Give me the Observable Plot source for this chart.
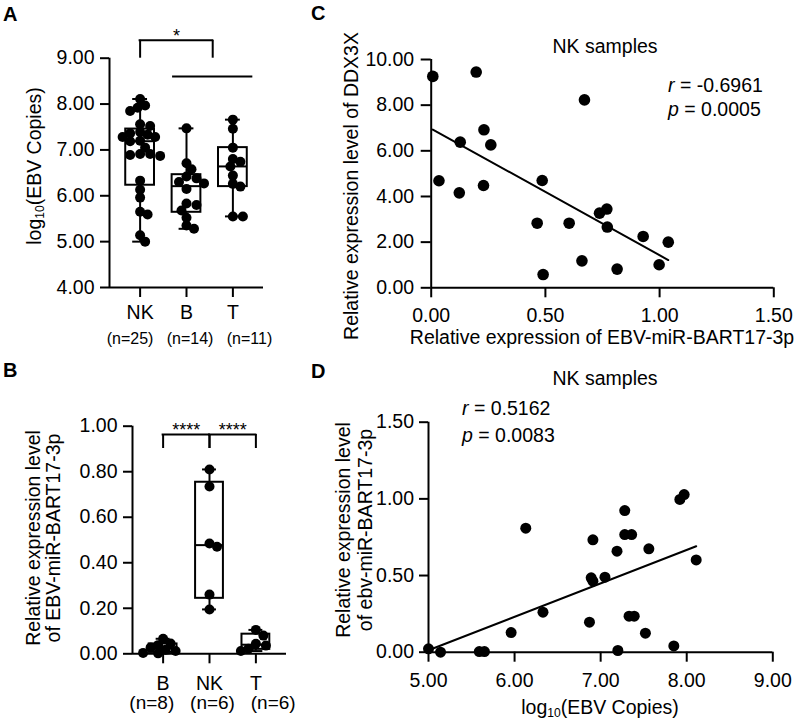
<!DOCTYPE html>
<html>
<head>
<meta charset="utf-8">
<script src="https://cdn.jsdelivr.net/npm/d3@7"></script>
<script src="https://cdn.jsdelivr.net/npm/@observablehq/plot@0.6"></script>
<style>
html,body{margin:0;padding:0;background:#fff;}
#fig{position:relative;width:800px;height:724px;overflow:hidden;font-family:"Liberation Sans",Arial,Helvetica,sans-serif;color:#000;}
#fig .panel{position:absolute;}
#fig .panel svg{overflow:visible;}
#fig .t{position:absolute;white-space:nowrap;line-height:1;font-size:19.5px;transform:translate(-50%,-50%);}
#fig .t.l{transform:translate(0,-50%);}
#fig .t.rot{transform:translate(-50%,-50%) rotate(-90deg);text-align:center;}
#fig .t.tag{font-weight:bold;font-size:20px;transform:translate(0,-50%);}
#fig sub{font-size:62%;vertical-align:-0.25em;line-height:0;}
#fig svg g[aria-label$="tick"]{stroke-width:2px;}
#fig svg g[aria-label$="tick"] path,#fig svg .tick line{stroke-width:2px;}
#fig svg g[aria-label$="tick label"],#fig svg g[aria-label$="tick label"] text,#fig svg .tick text{font-size:19.5px !important;font-family:"Liberation Sans",Arial,Helvetica,sans-serif !important;}
</style>
</head>
<body>
<div id="fig"></div>
<script>
// ---------- Panel A: log10(EBV copies) by cell type ----------
const groupsA = ["NK", "B", "T"];
const nLabelsA = ["(n=25)", "(n=14)", "(n=11)"];
const nkEbvCopies = [5.00, 5.14, 5.59, 5.65, 5.96, 6.13, 6.33, 6.87, 6.91, 6.89, 6.91, 7.05, 7.20, 7.19, 7.28, 7.28, 7.36, 7.33, 7.39, 7.52, 7.56, 7.85, 7.92, 7.97, 8.11];
const bEbvCopies = [7.47, 6.71, 6.58, 6.42, 6.38, 6.30, 6.27, 6.15, 5.83, 5.80, 5.68, 5.52, 5.35, 5.28];
const tEbvCopies = [7.66, 7.46, 7.05, 6.80, 6.74, 6.64, 6.44, 6.26, 6.20, 5.55, 5.55];
const sigBracketA = [{from: 0, to: 1.565, y: 9.39, drop: 9.0, label: "*"}];
const sigLineA = [{from: 0.7, to: 2.43, y: 8.6}];

// ---------- Panel B: EBV-miR-BART17-3p by cell type ----------
const groupsB = ["B", "NK", "T"];
const nLabelsB = ["(n=8)", "(n=6)", "(n=6)"];
const bBart17 = [0.066, 0.045, 0.038, 0.028, 0.018, 0.012, 0.004, 0.002];
const nkBart17 = [0.81, 0.735, 0.485, 0.47, 0.26, 0.195];
const tBart17 = [0.105, 0.080, 0.044, 0.036, 0.022, 0.012];
const sigBracketsB = [
  {from: 0, to: 1, y: 0.9635, drop: 0.902, label: "****"},
  {from: 1, to: 2, y: 0.9635, drop: 0.902, label: "****"}
];

// ---------- Panel C: DDX3X vs BART17-3p (NK samples) ----------
const bart17C = [0.007, 0.197, 0.671, 0.231, 0.127, 0.261, 0.034, 0.486, 0.123, 0.229, 0.464, 0.604, 0.737, 0.769, 0.771, 0.928, 1.038, 0.660, 0.814, 0.998, 0.490];
const ddx3xC = [9.26, 9.45, 8.23, 6.92, 6.38, 6.26, 4.69, 4.70, 4.16, 4.48, 2.83, 2.83, 3.27, 3.45, 2.66, 2.25, 2.00, 1.18, 0.82, 1.01, 0.58];
const statsC = {r: "-0.6961", p: "0.0005"};

// ---------- Panel D: BART17-3p vs log10(EBV copies) (NK samples) ----------
const bart17D = [0.022, 0.0, 0.004, 0.004, 0.128, 0.809, 0.261, 0.196, 0.733, 0.485, 0.463, 0.489, 0.011, 0.659, 0.924, 0.767, 0.767, 0.235, 0.235, 0.124, 0.674, 0.041, 0.996, 1.028, 0.602];
const statsD = {r: "0.5162", p: "0.0083"};

// ---------- helpers ----------
const FONT = '"Liberation Sans", Arial, Helvetica, sans-serif';
const fig = document.getElementById("fig");
const f2 = d3.format(".2f");

function gpQuantile(v, p) {
  const s = [...v].sort(d3.ascending), n = s.length;
  const pos = p * (n + 1);
  if (pos <= 1) return s[0];
  if (pos >= n) return s[n - 1];
  const lo = Math.floor(pos);
  return s[lo - 1] + (pos - lo) * (s[lo] - s[lo - 1]);
}
function boxStats(arrays) {
  return arrays.map((v, i) => ({i, min: d3.min(v), max: d3.max(v),
    q1: gpQuantile(v, 0.25), med: gpQuantile(v, 0.5), q3: gpQuantile(v, 0.75)}));
}
function boxMarks(stats, half, cap) {
  const sw = 2;
  return [
    Plot.ruleX(stats, {x: "i", y1: "q3", y2: "max", strokeWidth: sw}),
    Plot.ruleX(stats, {x: "i", y1: "min", y2: "q1", strokeWidth: sw}),
    Plot.ruleY(stats, {y: "max", x1: d => d.i - cap, x2: d => d.i + cap, strokeWidth: sw}),
    Plot.ruleY(stats, {y: "min", x1: d => d.i - cap, x2: d => d.i + cap, strokeWidth: sw}),
    Plot.rect(stats, {x1: d => d.i - half, x2: d => d.i + half, y1: "q1", y2: "q3", fill: "none", stroke: "black", strokeWidth: sw}),
    Plot.ruleY(stats, {y: "med", x1: d => d.i - half, x2: d => d.i + half, strokeWidth: sw})
  ];
}
// deterministic beeswarm offsets (pixel collision test), returned in data units
function swarm(values, center, pxX, pxY, r) {
  const out = new Array(values.length);
  const order = d3.range(values.length).sort((a, b) => values[b] - values[a]);
  const placed = [];
  const minD = 1.55 * r;
  for (const i of order) {
    const py = values[i] * pxY;
    let off = 0;
    for (let k = 0; k < 80; k++) {
      const cand = (k % 2 ? 1 : -1) * Math.ceil(k / 2) * r * 0.5;
      if (placed.every(p => Math.hypot(p.px - cand, p.py - py) >= minD)) { off = cand; break; }
    }
    placed.push({px: off, py});
    out[i] = {x: center + off / pxX, y: values[i]};
  }
  return out;
}
function bracketMarks(list, fontSize) {
  return [
    Plot.ruleY(list, {y: "y", x1: "from", x2: "to", strokeWidth: 2, strokeLinecap: "square"}),
    Plot.ruleX(list, {x: "from", y1: "drop", y2: "y", strokeWidth: 2}),
    Plot.ruleX(list, {x: "to", y1: "drop", y2: "y", strokeWidth: 2}),
    Plot.text(list, {x: d => (d.from + d.to) / 2, y: "y", text: "label", dy: -4.5, lineAnchor: "middle", fontSize})
  ];
}
function mount(L, plot) {
  const d = document.createElement("div");
  d.className = "panel";
  d.style.left = L.left + "px";
  d.style.top = L.top + "px";
  d.appendChild(plot);
  fig.appendChild(d);
}
function text(html, x, y, cls, extra) {
  const d = document.createElement("div");
  d.className = "t " + (cls || "");
  d.style.left = x + "px";
  d.style.top = y + "px";
  d.innerHTML = html;
  Object.assign(d.style, extra || {});
  fig.appendChild(d);
}
const baseStyle = {fontFamily: FONT, fontSize: "19.5px", background: "transparent", overflow: "visible", color: "black"};

// ---------- Panel A ----------
const LA = {left: 0, top: 0, width: 280, height: 360, ml: 109, mr: 17, mt: 57.7, mb: 73, xDom: [-0.66, 2.66], yDom: [4, 9]};
{
  const pxX = (LA.width - LA.ml - LA.mr) / (LA.xDom[1] - LA.xDom[0]);
  const pxY = (LA.height - LA.mt - LA.mb) / (LA.yDom[1] - LA.yDom[0]);
  const arrays = [nkEbvCopies, bEbvCopies, tEbvCopies];
  const pts = arrays.flatMap((v, i) => swarm(v, i, pxX, pxY, 5));
  mount(LA, Plot.plot({
    width: LA.width, height: LA.height,
    marginLeft: LA.ml, marginRight: LA.mr, marginTop: LA.mt, marginBottom: LA.mb,
    style: baseStyle,
    x: {domain: LA.xDom, ticks: [0, 1, 2], tickFormat: i => groupsA[i], tickSize: 10, tickPadding: 8, label: null},
    y: {domain: LA.yDom, ticks: [4, 5, 6, 7, 8, 9], tickFormat: f2, tickSize: 9, tickPadding: 6, label: null},
    marks: [
      Plot.ruleX([LA.xDom[0]], {strokeWidth: 2}),
      Plot.ruleY([LA.yDom[0]], {strokeWidth: 2}),
      ...boxMarks(boxStats(arrays), 0.31, 0.16),
      Plot.dot(pts, {x: "x", y: "y", r: 5, fill: "black"}),
      ...bracketMarks(sigBracketA, 18),
      Plot.ruleY(sigLineA, {y: "y", x1: "from", x2: "to", strokeWidth: 2}),
      Plot.text([{i: 1, t: nLabelsA.join("\u00a0\u00a0\u00a0")}], {x: "i", text: "t", frameAnchor: "bottom", dy: 51, dx: 3, lineAnchor: "middle", fontSize: 16})
    ]
  }));
}

// ---------- Panel B ----------
const LB = {left: 0, top: 360, width: 300, height: 364, ml: 132, mr: 14, mt: 65.7, mb: 70.7, xDom: [-0.66, 2.66], yDom: [0, 1]};
{
  const pxX = (LB.width - LB.ml - LB.mr) / (LB.xDom[1] - LB.xDom[0]);
  const pxY = (LB.height - LB.mt - LB.mb) / (LB.yDom[1] - LB.yDom[0]);
  const arrays = [bBart17, nkBart17, tBart17];
  const pts = arrays.flatMap((v, i) => swarm(v, i, pxX, pxY, 5));
  mount(LB, Plot.plot({
    width: LB.width, height: LB.height,
    marginLeft: LB.ml, marginRight: LB.mr, marginTop: LB.mt, marginBottom: LB.mb,
    style: baseStyle,
    x: {domain: LB.xDom, ticks: [0, 1, 2], tickFormat: i => groupsB[i], tickSize: 10, tickPadding: 12, label: null},
    y: {domain: LB.yDom, ticks: [0, 0.2, 0.4, 0.6, 0.8, 1.0], tickFormat: f2, tickSize: 9, tickPadding: 6, label: null},
    marks: [
      Plot.ruleX([LB.xDom[0]], {strokeWidth: 2}),
      Plot.ruleY([LB.yDom[0]], {strokeWidth: 2}),
      ...boxMarks(boxStats(arrays), 0.30, 0.15),
      Plot.dot(pts, {x: "x", y: "y", r: 5, fill: "black"}),
      ...bracketMarks(sigBracketsB, 18),
      Plot.text([{i: 1, t: nLabelsB.join("\u00a0\u00a0\u00a0")}], {x: "i", text: "t", frameAnchor: "bottom", dy: 49, dx: 3, lineAnchor: "middle", fontSize: 19})
    ]
  }));
}

// ---------- Panel C ----------
const LC = {left: 300, top: 0, width: 500, height: 360, ml: 130.7, mr: 26.7, mt: 59, mb: 72.7};
{
  const pts = bart17C.map((x, i) => ({x, y: ddx3xC[i]}));
  mount(LC, Plot.plot({
    width: LC.width, height: LC.height,
    marginLeft: LC.ml, marginRight: LC.mr, marginTop: LC.mt, marginBottom: LC.mb,
    style: baseStyle,
    x: {domain: [0, 1.5], ticks: [0, 0.5, 1, 1.5], tickFormat: f2, tickSize: 10, tickPadding: 10, label: null},
    y: {domain: [0, 10], ticks: [0, 2, 4, 6, 8, 10], tickFormat: f2, tickSize: 10, tickPadding: 7, label: null},
    marks: [
      Plot.ruleX([0], {strokeWidth: 2}),
      Plot.ruleY([0], {strokeWidth: 2}),
      Plot.linearRegressionY(pts, {x: "x", y: "y", stroke: "black", strokeWidth: 2, ci: 0}),
      Plot.dot(pts, {x: "x", y: "y", r: 5.8, fill: "black"})
    ]
  }));
}

// ---------- Panel D ----------
const LD = {left: 300, top: 360, width: 500, height: 364, ml: 128, mr: 27.7, mt: 61.7, mb: 72.3};
{
  const pts = nkEbvCopies.map((x, i) => ({x, y: bart17D[i]}));
  mount(LD, Plot.plot({
    width: LD.width, height: LD.height,
    marginLeft: LD.ml, marginRight: LD.mr, marginTop: LD.mt, marginBottom: LD.mb,
    style: baseStyle,
    x: {domain: [5, 9], ticks: [5, 6, 7, 8, 9], tickFormat: f2, tickSize: 10, tickPadding: 11, label: null},
    y: {domain: [0, 1.5], ticks: [0, 0.5, 1, 1.5], tickFormat: f2, tickSize: 9, tickPadding: 5.5, label: null},
    marks: [
      Plot.ruleX([5], {strokeWidth: 2}),
      Plot.ruleY([0], {strokeWidth: 2}),
      Plot.linearRegressionY(pts, {x: "x", y: "y", stroke: "black", strokeWidth: 2, ci: 0}),
      Plot.dot(pts, {x: "x", y: "y", r: 5.5, fill: "black"})
    ]
  }));
}

// ---------- text overlays ----------
text("A", 3, 14, "tag");
text("B", 3, 369.5, "tag");
text("C", 311, 12.5, "tag");
text("D", 311, 370.5, "tag");

text("log<sub>10</sub>(EBV Copies)", 35, 166, "rot");
text("Relative expression level<br>of EBV-miR-BART17-3p", 43, 538, "rot", {lineHeight: "20px"});

text("NK samples", 605, 47);
text(`<i>r</i> = ${statsC.r}`, 668, 86, "l");
text(`<i>p</i> = ${statsC.p}`, 668, 109.5, "l");
text("Relative expression level of DDX3X", 352, 186, "rot");
text("Relative expression of EBV-miR-BART17-3p", 602, 338);

text("NK samples", 605, 379);
text(`<i>r</i> = ${statsD.r}`, 462, 409, "l");
text(`<i>p</i> = ${statsD.p}`, 462, 436, "l");
text("Relative expression level<br>of ebv-miR-BART17-3p", 354, 530, "rot", {lineHeight: "22px"});
text("log<sub>10</sub>(EBV Copies)", 600, 708);
</script>
</body>
</html>
